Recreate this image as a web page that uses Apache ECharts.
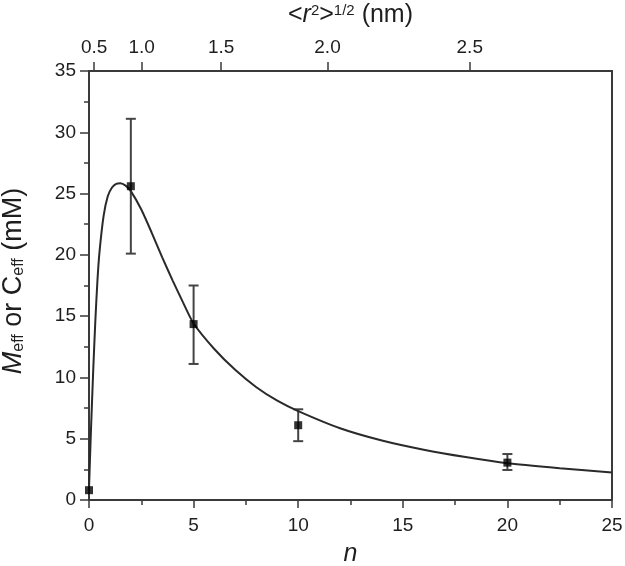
<!DOCTYPE html>
<html>
<head>
<meta charset="utf-8">
<script src="https://cdn.jsdelivr.net/npm/echarts@6/dist/echarts.min.js"></script>
<style>
html,body{margin:0;padding:0;background:#fff;}
#chart{width:625px;height:566px;}
</style>
</head>
<body>
<div id="chart"></div>
<script>
// Measured points
const pointN = [0, 2, 5, 10, 20];
const pointY = [0.8, 25.6, 14.35, 6.1, 3.05];
const errLow = [null, 20.1, 11.1, 4.8, 2.45];
const errHigh = [null, 31.1, 17.5, 7.4, 3.75];

// Fitted curve
const curveN = [0, 0.05, 0.1, 0.2, 0.3, 0.4, 0.5, 0.7, 0.9, 1.1, 1.3, 1.5, 1.75, 2.0, 2.5, 3.0, 3.5, 4.0, 4.5, 5.0, 6.0, 7.0, 8.0, 9.0, 10.0, 12.0, 14.0, 16.0, 18.0, 20.0, 22.5, 25.0];
const curveY = [0.9, 3.5, 6.0, 10.5, 14.5, 17.8, 20.2, 23.2, 24.8, 25.5, 25.8, 25.85, 25.65, 25.2, 23.7, 21.8, 19.8, 17.9, 16.1, 14.4, 12.3, 10.6, 9.2, 8.1, 7.25, 5.85, 4.85, 4.1, 3.5, 3.0, 2.6, 2.25];

// Bottom axis ticks (n)
const xTicks = [0, 5, 10, 15, 20, 25];
// Top axis ticks: labels and their positions on the n scale
const topLabels = ['0.5', '1.0', '1.5', '2.0', '2.5'];
const topTickN = [0.25, 2.52, 6.32, 11.4, 18.2];
// Left axis ticks
const yTicks = [0, 5, 10, 15, 20, 25, 30, 35];

const axisColor = '#3a3a3a';
const textColor = '#1e1e1e';
const font = 'Liberation Sans, Arial, sans-serif';
const tickFont = 19;
const titleFont = 25;
const supFont = 15;
const yTitleFont = 27;
const ySubFont = 16;

const chart = echarts.init(document.getElementById('chart'), null, {renderer: 'canvas'});

const curveData = curveN.map((n, i) => [n, curveY[i]]);
const pointData = pointN.map((n, i) => [n, pointY[i]]);
const errData = [];
pointN.forEach((n, i) => { if (errLow[i] != null) errData.push([n, errLow[i], errHigh[i]]); });

const option = {
  animation: false,
  backgroundColor: '#fff',
  grid: {left: 89, right: 13, top: 71, bottom: 66, containLabel: false, outerBoundsMode: 'none'},
  xAxis: [
    {
      type: 'value', position: 'bottom', min: xTicks[0], max: xTicks[xTicks.length - 1], interval: 5,
      axisLine: {show: true, onZero: false, lineStyle: {color: axisColor, width: 2}},
      axisTick: {show: true, inside: false, length: 8, lineStyle: {color: axisColor, width: 1.5}},
      minorTick: {show: true, splitNumber: 2, length: 5, lineStyle: {color: axisColor, width: 1.5}},
      splitLine: {show: false},
      axisLabel: {color: textColor, fontSize: tickFont, fontFamily: font, margin: 16},
      name: 'n', nameLocation: 'middle', nameGap: 42,
      nameTextStyle: {fontSize: titleFont, fontStyle: 'italic', fontFamily: font, color: textColor}
    },
    {
      type: 'value', position: 'top', min: 0, max: 25,
      axisLine: {show: true, onZero: false, lineStyle: {color: axisColor, width: 2}},
      axisTick: {show: true, inside: false, length: 9, customValues: topTickN, lineStyle: {color: axisColor, width: 1.5}},
      splitLine: {show: false},
      axisLabel: {
        color: textColor, fontSize: tickFont, fontFamily: font, margin: 14,
        customValues: topTickN,
        formatter: function (v) {
          let best = 0, d = Infinity;
          topTickN.forEach((t, i) => { if (Math.abs(t - v) < d) { d = Math.abs(t - v); best = i; } });
          return topLabels[best];
        }
      },
      name: '<{i|r}{sup|2}>{sup|1/2} (nm)', nameLocation: 'middle', nameGap: 43,
      nameTextStyle: {
        fontSize: titleFont, fontFamily: font, color: textColor,
        rich: {
          i: {fontSize: titleFont, fontStyle: 'italic', fontFamily: font, color: textColor},
          sup: {fontSize: supFont, fontFamily: font, color: textColor, verticalAlign: 'top', padding: [0, 0, 10, 0]}
        }
      }
    }
  ],
  yAxis: [
    {
      type: 'value', position: 'left', min: yTicks[0], max: yTicks[yTicks.length - 1], interval: 5,
      axisLine: {show: true, onZero: false, lineStyle: {color: axisColor, width: 2}},
      axisTick: {show: true, inside: false, length: 9, lineStyle: {color: axisColor, width: 1.5}},
      minorTick: {show: true, splitNumber: 2, length: 5, lineStyle: {color: axisColor, width: 1.5}},
      splitLine: {show: false},
      axisLabel: {color: textColor, fontSize: tickFont, fontFamily: font, margin: 13},
      name: '{i|M}{sub|eff} or C{sub|eff} (mM)', nameLocation: 'middle', nameGap: 62, nameRotate: 90,
      nameTextStyle: {
        fontSize: yTitleFont, fontFamily: font, color: textColor, padding: [0, 0, 0, 9],
        rich: {
          i: {fontSize: yTitleFont, fontStyle: 'italic', fontFamily: font, color: textColor},
          sub: {fontSize: ySubFont, fontFamily: font, color: textColor, verticalAlign: 'bottom', padding: [10, 0, 0, 0]}
        }
      }
    },
    {
      type: 'value', position: 'right', min: 0, max: 35,
      axisLine: {show: true, onZero: false, lineStyle: {color: axisColor, width: 2}},
      axisTick: {show: false}, axisLabel: {show: false}, splitLine: {show: false}
    }
  ],
  series: [
    {
      type: 'custom', xAxisIndex: 0, yAxisIndex: 0, data: errData, z: 2,
      renderItem: function (params, api) {
        const x = api.value(0);
        const lo = api.coord([x, api.value(1)]);
        const hi = api.coord([x, api.value(2)]);
        const w = 5;
        const st = {stroke: '#444', lineWidth: 2};
        return {type: 'group', children: [
          {type: 'line', shape: {x1: lo[0], y1: lo[1], x2: hi[0], y2: hi[1]}, style: st},
          {type: 'line', shape: {x1: lo[0] - w, y1: lo[1], x2: lo[0] + w, y2: lo[1]}, style: st},
          {type: 'line', shape: {x1: hi[0] - w, y1: hi[1], x2: hi[0] + w, y2: hi[1]}, style: st}
        ]};
      }
    },
    {
      type: 'line', xAxisIndex: 0, yAxisIndex: 0, data: curveData, smooth: 0.2, showSymbol: false, z: 3,
      lineStyle: {color: '#2a2a2a', width: 2}
    },
    {
      type: 'scatter', xAxisIndex: 0, yAxisIndex: 0, data: pointData, symbol: 'rect', symbolSize: 8, z: 4,
      itemStyle: {color: '#000'}
    }
  ]
};
chart.setOption(option);
</script>
</body>
</html>
